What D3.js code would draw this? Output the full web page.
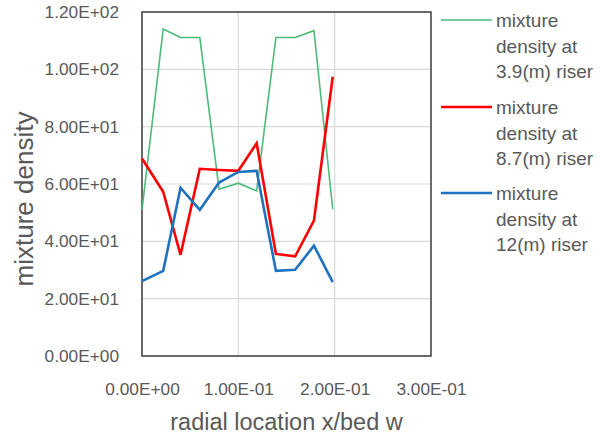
<!DOCTYPE html>
<html>
<head>
<meta charset="utf-8">
<script src="https://cdn.jsdelivr.net/npm/d3@7"></script>
<style>
  html, body { margin: 0; padding: 0; background: #fff; }
  svg { display: block; font-family: "Liberation Sans", Arial, sans-serif; }
</style>
</head>
<body>
<svg id="chart" width="605" height="439"></svg>
<script>
// radial location x/bed w
const xValues = [0, 0.022, 0.040, 0.060, 0.080, 0.100, 0.119, 0.139, 0.159, 0.1785, 0.198];
// mixture density series
const green39 = [51.0, 114.1, 111.1, 111.1, 58.2, 60.3, 57.6, 111.1, 111.1, 113.5, 51.2];
const red87   = [68.9, 57.3, 35.3, 65.3, 64.9, 64.6, 74.2, 35.6, 34.8, 47.2, 97.4];
const blue12  = [26.1, 29.7, 58.7, 51.0, 60.5, 64.2, 64.6, 29.7, 30.1, 38.5, 25.8];
const seriesNames = [
  ["mixture", "density at", "3.9(m) riser"],
  ["mixture", "density at", "8.7(m) riser"],
  ["mixture", "density at", "12(m) riser"]
];
const yTicks = [0, 20, 40, 60, 80, 100, 120];
const xTicks = [0, 0.1, 0.2, 0.3];
const yTickLabels = ["0.00E+00", "2.00E+01", "4.00E+01", "6.00E+01", "8.00E+01", "1.00E+02", "1.20E+02"];
const xTickLabels = ["0.00E+00", "1.00E-01", "2.00E-01", "3.00E-01"];

const series = [
  { values: green39, color: "#4cbb78", width: 1.6 },
  { values: red87,   color: "#ff0000", width: 2.6 },
  { values: blue12,  color: "#1f72c0", width: 2.6 }
];

const svg = d3.select("#chart");
const pL = 142, pR = 431, pT = 12, pB = 356;
const x = d3.scaleLinear().domain([0, 0.3]).range([pL, pR]);
const y = d3.scaleLinear().domain([0, 120]).range([pB, pT]);
const textColor = "#595959";

// gridlines
svg.append("g").selectAll("line").data(yTicks).join("line")
  .attr("x1", pL).attr("x2", pR)
  .attr("y1", d => y(d)).attr("y2", d => y(d))
  .attr("stroke", "#d9d9d9").attr("stroke-width", 1.2);
svg.append("g").selectAll("line").data(xTicks).join("line")
  .attr("y1", pT).attr("y2", pB)
  .attr("x1", d => x(d)).attr("x2", d => x(d))
  .attr("stroke", "#d9d9d9").attr("stroke-width", 1.2);

// axes (labels only)
const yAxis = d3.axisLeft(y).tickValues(yTicks)
  .tickFormat((d, i) => yTickLabels[i]).tickSize(0).tickPadding(23);
const gy = svg.append("g").attr("transform", `translate(${pL},0)`).call(yAxis);
gy.select(".domain").remove();
gy.selectAll("text").attr("fill", textColor).style("font-size", "17.3px")
  .style("font-family", "'Liberation Sans', Arial, sans-serif");

const xAxis = d3.axisBottom(x).tickValues(xTicks)
  .tickFormat((d, i) => xTickLabels[i]).tickSize(0).tickPadding(27);
const gx = svg.append("g").attr("transform", `translate(0,${pB})`).call(xAxis);
gx.select(".domain").remove();
gx.selectAll("text").attr("fill", textColor).style("font-size", "17.3px")
  .style("font-family", "'Liberation Sans', Arial, sans-serif");

// plot border
svg.append("rect").attr("x", pL).attr("y", pT)
  .attr("width", pR - pL).attr("height", pB - pT)
  .attr("fill", "none").attr("stroke", "#404040").attr("stroke-width", 1.5);

// lines
const line = d3.line().x((d, i) => x(xValues[i])).y(d => y(d));
svg.append("g").selectAll("path").data(series).join("path")
  .attr("d", d => line(d.values))
  .attr("fill", "none")
  .attr("stroke", d => d.color)
  .attr("stroke-width", d => d.width)
  .attr("stroke-linejoin", "miter");

// axis titles
svg.append("text")
  .attr("x", (pL + pR) / 2).attr("y", 430)
  .attr("text-anchor", "middle").attr("fill", textColor)
  .style("font-size", "23.5px").text("radial location x/bed w");

svg.append("text")
  .attr("transform", "translate(33,199) rotate(-90)")
  .attr("text-anchor", "middle").attr("fill", textColor)
  .style("font-size", "26px").text("mixture density");

// legend
const legendY = [20, 107, 193];
const lg = svg.append("g").selectAll("g").data(series).join("g")
  .attr("transform", (d, i) => `translate(441,${legendY[i]})`);
lg.append("line").attr("x1", 0).attr("x2", 51).attr("y1", 0).attr("y2", 0)
  .attr("stroke", d => d.color).attr("stroke-width", d => d.width);
lg.each(function(d, i) {
  const t = d3.select(this).append("text").attr("x", 55).attr("y", 7)
    .attr("fill", textColor).style("font-size", "19px");
  seriesNames[i].forEach((s, j) => {
    t.append("tspan").attr("x", 55).attr("dy", j === 0 ? 0 : 25.5).text(s);
  });
});
</script>
</body>
</html>
